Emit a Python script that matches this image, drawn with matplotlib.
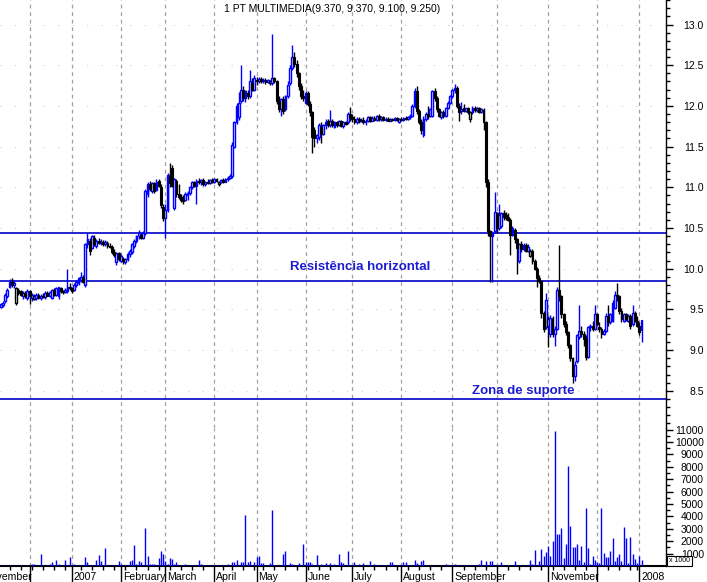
"""
PT Multimedia daily candles with volume, Nov 2006 - Jan 2008.
"""

import matplotlib
matplotlib.use("Agg")
import matplotlib.pyplot as plt
import matplotlib.transforms as mtransforms
import numpy as np
import pandas as pd

plt.rcParams["font.family"] = ["Liberation Sans", "DejaVu Sans"]

BLUE = "#0000FF"
BLACK = "#000000"
TEXT_BLUE = "#1c1cd0"

# --------------------------------------------------------------------------- #
#  Daily OHLC (one row of values per month)
# --------------------------------------------------------------------------- #
opens = [
    9.53, 9.55, 9.60, 9.66, 9.78, 9.84, 9.80, 9.58, 9.74, 9.72, 9.66, 9.70, 9.64,
    9.72, 9.64, 9.63, 9.64, 9.68, 9.64, 9.67, 9.65, 9.70, 9.67, 9.64, 9.74, 9.68, 9.66, 9.76, 9.72, 9.71, 9.72, 9.78,
    9.76, 9.74, 9.80, 9.82, 9.86, 9.88, 9.80, 10.30, 10.34, 10.26, 10.38, 10.28, 10.34, 10.32, 10.33, 10.30, 10.32, 10.28, 10.27, 10.20, 10.08, 10.19,
    10.10, 10.12, 10.08, 10.12, 10.18, 10.20, 10.28, 10.34, 10.40, 10.42, 10.38, 10.44, 10.92, 11.04, 10.96, 11.05, 10.97, 11.08, 11.00, 10.76,
    10.62, 10.72, 11.15, 11.24, 10.75, 11.08, 10.92, 10.88, 10.85, 10.84, 10.90, 10.93, 11.00, 11.06, 11.02, 11.08, 11.06, 11.09, 11.04, 11.07, 11.05, 11.09,
    11.07, 11.10, 11.04, 11.06, 11.09, 11.07, 11.10, 11.12, 11.14, 11.50, 11.80, 11.86, 12.06, 12.20, 12.10, 12.16, 12.12, 12.28, 12.20,
    12.32, 12.30, 12.33, 12.30, 12.32, 12.29, 12.28, 12.28, 12.34, 12.30, 12.06, 11.96, 12.08, 11.96, 12.12, 12.28, 12.46, 12.60, 12.52, 12.40, 12.24, 12.12,
    12.04, 12.16, 12.02, 11.92, 11.70, 11.60, 11.62, 11.74, 11.66, 11.76, 11.82, 11.76, 11.82, 11.74, 11.80, 11.76, 11.81, 11.75, 11.80, 11.80, 11.90,
    11.86, 11.84, 11.80, 11.84, 11.81, 11.83, 11.80, 11.82, 11.86, 11.82, 11.85, 11.83, 11.87, 11.84, 11.86, 11.83, 11.84, 11.82, 11.84, 11.83, 11.85, 11.80,
    11.84, 11.83, 11.85, 11.84, 11.86, 11.88, 12.00, 12.18, 11.94, 11.80, 11.64, 11.84, 11.90, 11.88, 11.88, 12.18, 12.10, 11.96, 11.86, 11.92, 11.87, 11.97, 12.04,
    12.12, 12.20, 12.22, 12.00, 11.94, 11.98, 11.94, 11.97, 11.84, 11.92, 11.98, 11.95, 11.97, 11.93, 11.95, 11.80, 11.06, 10.46, 10.40, 10.46,
    10.68, 10.50, 10.52, 10.68, 10.66, 10.64, 10.60, 10.42, 10.48, 10.36, 10.10, 10.30, 10.24, 10.29, 10.22, 10.16, 10.22, 10.10, 10.00, 9.88, 9.85, 9.46, 9.28,
    9.30, 9.20, 9.40, 9.20, 9.26, 9.74, 9.66, 9.44, 9.32, 9.22, 9.06, 8.90, 8.68, 8.86, 9.16, 9.24, 9.20, 9.14, 8.92, 9.28, 9.30, 9.26,
    9.44, 9.28, 9.26, 9.20, 9.24, 9.42, 9.34, 9.36, 9.52, 9.68, 9.66, 9.48, 9.36, 9.44, 9.36, 9.42, 9.32, 9.46, 9.36,
    9.30, 9.37,
]
highs = [
    9.58, 9.60, 9.70, 9.76, 9.87, 9.88, 9.86, 9.78, 9.76, 9.74, 9.72, 9.72, 9.75,
    9.74, 9.70, 9.69, 9.70, 9.70, 9.69, 9.70, 9.72, 9.72, 9.73, 9.75, 9.76, 9.77, 9.78, 9.78, 9.74, 9.76, 10.00, 9.82,
    9.78, 9.82, 9.86, 9.90, 9.96, 9.92, 10.32, 10.44, 10.38, 10.42, 10.42, 10.36, 10.38, 10.36, 10.35, 10.35, 10.34, 10.31, 10.29, 10.24, 10.20, 10.21,
    10.18, 10.14, 10.13, 10.20, 10.24, 10.32, 10.36, 10.42, 10.48, 10.44, 10.46, 10.98, 11.06, 11.08, 11.07, 11.06, 11.10, 11.10, 11.04, 10.80,
    10.80, 11.17, 11.30, 11.28, 11.12, 11.10, 11.04, 10.92, 10.90, 10.94, 10.95, 11.01, 11.08, 11.08, 11.10, 11.12, 11.10, 11.11, 11.08, 11.10, 11.10, 11.11,
    11.12, 11.12, 11.08, 11.10, 11.11, 11.12, 11.14, 11.16, 11.56, 11.82, 12.04, 12.17, 12.50, 12.24, 12.20, 12.20, 12.44, 12.34, 12.38,
    12.36, 12.35, 12.35, 12.34, 12.34, 12.33, 12.32, 12.88, 12.36, 12.32, 12.12, 12.10, 12.12, 12.14, 12.30, 12.50, 12.75, 12.66, 12.56, 12.42, 12.28, 12.20,
    12.18, 12.18, 12.06, 11.94, 11.74, 11.66, 11.79, 11.80, 11.78, 11.84, 11.84, 11.95, 11.84, 11.82, 11.82, 11.83, 11.83, 11.82, 11.82, 11.92, 11.99,
    11.90, 11.87, 11.86, 11.86, 11.85, 11.86, 11.84, 11.88, 11.88, 11.87, 11.88, 11.89, 11.90, 11.88, 11.88, 11.86, 11.86, 11.85, 11.85, 11.86, 11.86, 11.85,
    11.86, 11.86, 11.87, 11.88, 11.90, 12.02, 12.22, 12.25, 11.96, 11.84, 11.87, 11.92, 12.00, 11.98, 12.20, 12.22, 12.12, 11.98, 11.94, 11.95, 11.99, 12.06, 12.14,
    12.21, 12.27, 12.24, 12.04, 12.05, 12.02, 11.98, 11.99, 11.94, 12.00, 12.00, 11.99, 11.99, 11.98, 11.97, 11.82, 11.10, 10.48, 10.46, 10.94,
    10.70, 10.80, 10.70, 10.72, 10.70, 10.68, 10.62, 10.52, 10.50, 10.38, 10.32, 10.34, 10.31, 10.31, 10.30, 10.24, 10.24, 10.12, 10.02, 9.92, 9.86, 9.48, 9.70,
    9.42, 9.43, 9.42, 9.30, 9.77, 10.29, 9.68, 9.46, 9.36, 9.24, 9.08, 8.92, 8.86, 9.20, 9.56, 9.30, 9.24, 9.18, 9.30, 9.32, 9.36, 9.55,
    9.46, 9.34, 9.28, 9.26, 9.46, 9.55, 9.46, 9.62, 9.72, 9.82, 9.68, 9.52, 9.46, 9.46, 9.44, 9.44, 9.55, 9.48, 9.42,
    9.34, 9.37,
]
lows = [
    9.52, 9.53, 9.58, 9.64, 9.76, 9.78, 9.76, 9.55, 9.68, 9.66, 9.63, 9.64, 9.62,
    9.57, 9.60, 9.61, 9.62, 9.63, 9.62, 9.64, 9.63, 9.66, 9.65, 9.63, 9.66, 9.67, 9.63, 9.70, 9.69, 9.70, 9.70, 9.74,
    9.70, 9.72, 9.78, 9.80, 9.84, 9.82, 9.78, 10.25, 10.17, 10.24, 10.28, 10.26, 10.30, 10.29, 10.28, 10.28, 10.26, 10.25, 10.18, 10.14, 10.05, 10.10,
    10.08, 10.06, 10.06, 10.10, 10.14, 10.18, 10.26, 10.32, 10.36, 10.36, 10.37, 10.42, 10.88, 10.95, 10.93, 10.93, 10.95, 11.00, 10.75, 10.58,
    10.38, 10.70, 11.00, 11.00, 10.72, 10.88, 10.86, 10.82, 10.80, 10.83, 10.84, 10.90, 10.98, 11.00, 10.80, 11.04, 11.03, 11.02, 11.02, 11.04, 11.04, 11.05,
    11.05, 11.06, 11.02, 11.05, 11.05, 11.06, 11.08, 11.10, 11.12, 11.48, 11.78, 11.83, 12.04, 12.06, 12.05, 12.08, 12.10, 12.18, 12.18,
    12.26, 12.28, 12.28, 12.28, 12.27, 12.28, 12.26, 12.26, 12.28, 12.02, 11.92, 11.88, 11.90, 11.94, 12.10, 12.26, 12.44, 12.48, 12.36, 12.20, 12.08, 12.06,
    12.02, 12.00, 11.88, 11.42, 11.50, 11.55, 11.58, 11.55, 11.64, 11.72, 11.74, 11.74, 11.74, 11.73, 11.74, 11.75, 11.74, 11.73, 11.76, 11.78, 11.82,
    11.80, 11.78, 11.78, 11.79, 11.80, 11.78, 11.77, 11.80, 11.80, 11.81, 11.81, 11.82, 11.82, 11.82, 11.81, 11.81, 11.81, 11.81, 11.81, 11.82, 11.81, 11.79,
    11.82, 11.82, 11.83, 11.83, 11.84, 11.86, 11.98, 11.90, 11.78, 11.66, 11.62, 11.82, 11.84, 11.86, 11.86, 12.06, 11.92, 11.86, 11.84, 11.85, 11.86, 11.96, 12.02,
    12.10, 12.16, 11.98, 11.82, 11.90, 11.92, 11.92, 11.90, 11.80, 11.90, 11.92, 11.93, 11.91, 11.91, 11.70, 11.00, 10.40, 9.84, 9.84, 10.44,
    10.44, 10.48, 10.50, 10.60, 10.60, 10.58, 10.17, 10.40, 10.32, 9.93, 10.07, 10.20, 10.22, 10.20, 10.20, 10.14, 10.06, 9.98, 9.78, 9.82, 9.40, 9.22, 9.26,
    9.04, 9.16, 9.16, 9.05, 9.25, 9.60, 9.40, 9.28, 9.18, 9.02, 8.86, 8.60, 8.62, 8.84, 9.14, 9.16, 9.05, 8.88, 8.90, 9.24, 9.24, 9.25,
    9.30, 9.22, 9.15, 9.18, 9.22, 9.30, 9.32, 9.34, 9.50, 9.60, 9.44, 9.34, 9.34, 9.36, 9.34, 9.26, 9.30, 9.34, 9.28,
    9.18, 9.10,
]
closes = [
    9.57, 9.58, 9.68, 9.74, 9.84, 9.80, 9.82, 9.76, 9.70, 9.68, 9.70, 9.66, 9.73,
    9.66, 9.68, 9.67, 9.68, 9.64, 9.67, 9.65, 9.70, 9.67, 9.71, 9.74, 9.68, 9.76, 9.77, 9.72, 9.71, 9.74, 9.78, 9.76,
    9.72, 9.80, 9.84, 9.88, 9.90, 9.84, 10.30, 10.36, 10.22, 10.40, 10.30, 10.34, 10.32, 10.33, 10.30, 10.33, 10.28, 10.27, 10.20, 10.17, 10.19, 10.12,
    10.16, 10.09, 10.12, 10.18, 10.22, 10.30, 10.34, 10.40, 10.44, 10.38, 10.44, 10.95, 11.04, 10.98, 11.05, 10.96, 11.06, 11.02, 10.78, 10.62,
    10.72, 11.15, 11.05, 11.02, 11.10, 10.92, 10.88, 10.85, 10.83, 10.92, 10.93, 11.00, 11.06, 11.02, 11.08, 11.06, 11.09, 11.04, 11.07, 11.05, 11.09, 11.07,
    11.10, 11.08, 11.06, 11.09, 11.07, 11.10, 11.12, 11.14, 11.52, 11.80, 12.00, 12.04, 12.20, 12.10, 12.18, 12.12, 12.30, 12.20, 12.34,
    12.30, 12.33, 12.30, 12.32, 12.29, 12.32, 12.30, 12.34, 12.30, 12.06, 11.96, 12.08, 11.94, 12.12, 12.26, 12.46, 12.60, 12.52, 12.40, 12.24, 12.12, 12.10,
    12.16, 12.02, 11.92, 11.62, 11.60, 11.64, 11.76, 11.66, 11.76, 11.80, 11.76, 11.82, 11.76, 11.80, 11.76, 11.81, 11.75, 11.80, 11.78, 11.90, 11.86,
    11.84, 11.80, 11.84, 11.81, 11.83, 11.80, 11.82, 11.86, 11.82, 11.85, 11.83, 11.87, 11.84, 11.86, 11.83, 11.84, 11.82, 11.84, 11.83, 11.85, 11.83, 11.84,
    11.83, 11.85, 11.84, 11.86, 11.88, 12.00, 12.18, 11.94, 11.80, 11.70, 11.84, 11.90, 11.88, 11.96, 12.18, 12.10, 11.96, 11.88, 11.92, 11.87, 11.97, 12.04, 12.12,
    12.20, 12.22, 12.00, 11.92, 11.96, 11.94, 11.97, 11.93, 11.92, 11.98, 11.95, 11.97, 11.93, 11.96, 11.80, 11.06, 10.46, 10.40, 10.44, 10.70,
    10.50, 10.66, 10.68, 10.64, 10.62, 10.60, 10.42, 10.50, 10.36, 10.26, 10.30, 10.24, 10.29, 10.22, 10.27, 10.22, 10.10, 10.00, 9.88, 9.85, 9.46, 9.26, 9.62,
    9.38, 9.40, 9.20, 9.26, 9.74, 9.66, 9.44, 9.32, 9.22, 9.06, 8.90, 8.68, 8.82, 9.18, 9.24, 9.20, 9.14, 8.92, 9.28, 9.30, 9.26, 9.44,
    9.32, 9.26, 9.20, 9.24, 9.42, 9.34, 9.44, 9.58, 9.68, 9.66, 9.48, 9.38, 9.44, 9.38, 9.42, 9.30, 9.46, 9.36, 9.30,
    9.22, 9.25,
]
# volume in thousands of shares
volumes = [
    0.05, 0.0, 0.05, 0.1, 0.0, 0.1, 0.0, 0.05, 0.0, 0.05, 0.0, 0.05, 0.0,
    0.05, 0.2, 0.15, 0.0, 0.05, 1.0, 0.05, 0.0, 0.1, 0.15, 0.3, 0.05, 0.5, 0.15, 0.05, 0.0, 0.5, 0.1, 0.7,
    0.05, 0.15, 0.1, 0.05, 0.1, 0.05, 0.7, 0.3, 0.1, 0.05, 0.1, 0.5, 0.9, 0.4, 0.05, 1.45, 0.05, 0.1, 0.05, 0.1, 0.05, 0.4,
    0.15, 0.05, 0.1, 0.05, 0.4, 0.5, 1.7, 0.2, 0.4, 0.35, 0.05, 3.06, 0.8, 0.15, 0.15, 0.2, 0.05, 0.65, 1.2, 1.0,
    0.4, 0.15, 0.65, 0.55, 0.15, 0.3, 0.1, 0.1, 0.05, 0.15, 0.1, 0.05, 0.05, 0.1, 0.05, 0.5, 0.15, 0.1, 0.05, 0.05, 0.05, 0.05,
    0.05, 0.05, 0.08, 0.05, 0.1, 0.05, 0.15, 0.05, 0.35, 0.3, 0.5, 0.1, 0.3, 0.3, 4.1, 0.3, 0.4, 0.1, 0.3,
    0.7, 0.8, 0.25, 0.25, 0.1, 0.1, 0.25, 4.5, 0.1, 0.1, 0.05, 0.1, 1.0, 1.2, 0.05, 0.25, 0.15, 0.1, 0.05, 0.25, 0.1, 1.8,
    0.3, 0.3, 0.3, 0.15, 0.05, 0.9, 0.05, 0.15, 0.1, 0.25, 0.05, 0.25, 0.05, 0.15, 0.05, 1.0, 0.35, 0.25, 0.05, 1.2, 0.1,
    0.05, 0.35, 0.05, 0.15, 0.1, 0.25, 0.1, 0.05, 0.4, 0.05, 0.15, 0.1, 0.1, 0.1, 0.05, 0.05, 0.1, 0.35, 0.35, 0.05, 0.1, 0.05,
    0.05, 0.3, 0.35, 0.05, 0.1, 0.05, 0.5, 0.25, 0.05, 0.4, 0.5, 0.05, 0.1, 0.0, 0.05, 0.0, 0.05, 0.0, 0.05, 0.0, 0.15, 0.05, 0.1,
    0.05, 0.15, 0.05, 0.1, 0.1, 0.05, 0.05, 0.08, 0.05, 0.08, 0.05, 0.1, 0.2, 0.5, 0.1, 0.4, 0.05, 0.4, 0.4, 0.1,
    0.1, 0.05, 0.3, 0.05, 0.05, 0.1, 0.1, 0.05, 0.4, 0.05, 0.05, 0.1, 0.1, 0.1, 0.05, 0.5, 0.2, 1.3, 0.05, 0.4, 1.4, 0.8, 1.1,
    1.6, 0.8, 2.0, 10.9, 2.6, 2.6, 3.06, 0.65, 1.8, 8.06, 3.2, 1.55, 1.55, 1.8, 0.5, 1.6, 0.3, 4.7, 1.45, 0.15, 0.8, 0.5,
    0.3, 0.25, 4.7, 1.05, 0.7, 0.7, 1.2, 2.26, 0.4, 0.7, 1.0, 0.4, 3.15, 2.26, 0.25, 2.34, 1.0, 0.55, 0.25,
    0.8, 0.5,
]

holidays = ["2006-12-25", "2006-12-26", "2007-01-01", "2007-04-06", "2007-04-09",
            "2007-05-01", "2007-12-25", "2007-12-26", "2008-01-01"]

# horizontal resistance / support levels
levels = [10.435, 9.85, 8.40]

price_ticks = [8.5, 9.0, 9.5, 10.0, 10.5, 11.0, 11.5, 12.0, 12.5, 13.0]
volume_ticks = [1, 2, 3, 4, 5, 6, 7, 8, 9, 10, 11]

# label per month boundary ("" = boundary without label)
month_labels = ["", "2007", "February", "March", "April", "May", "June", "July",
                "August", "September", "", "November", "", "2008"]

title = "1 PT MULTIMEDIA(9.370, 9.370, 9.100, 9.250)"

# --------------------------------------------------------------------------- #
dates = pd.bdate_range("2006-11-14", "2008-01-03")
dates = dates[~dates.isin(pd.to_datetime(holidays))]
n = len(closes)
assert len(dates) == n == len(opens) == len(highs) == len(lows) == len(volumes), \
    (len(dates), len(opens), len(highs), len(lows), len(closes), len(volumes))

x = np.arange(n)
o = np.array(opens)
h = np.array(highs)
l = np.array(lows)
c = np.array(closes)
v = np.array(volumes)

prev = np.r_[c[0], c[:-1]]
col = np.where(c >= prev, BLUE, BLACK)
hollow = c >= o

month_pos = [i for i in range(1, n) if dates[i].month != dates[i - 1].month]
week_pos = [i for i in range(1, n) if dates[i].weekday() < dates[i - 1].weekday()]

W, H = 707, 582
fig = plt.figure(figsize=(W / 100, H / 100), dpi=100)
ax_p = fig.add_axes([0, 1 - 428 / H, 666 / W, 428 / H])
ax_v = fig.add_axes([0, 16 / H, 666 / W, 138 / H])

xlim = (-0.3, 299.0)

# --- price panel ---
for m in month_pos:
    for ax in (ax_p, ax_v):
        ax.axvline(m, color="#a0a0a0", lw=0.9, ls=(0, (3, 3)), zorder=0)
for pt in price_ticks:
    ax_p.axhline(pt, color="#f2b8e2", lw=0.8, ls=(0, (1, 12)), zorder=0)

for lv in levels:
    ax_p.axhline(lv, color="#0000c8", lw=1.2, zorder=2)

ax_p.vlines(x, l, h, colors=col, lw=1.0, zorder=3)
bottoms = np.minimum(o, c)
heights = np.maximum(np.abs(c - o), 0.008)
ax_p.bar(x[hollow], heights[hollow], width=0.8, bottom=bottoms[hollow],
         facecolor="white", edgecolor=col[hollow], linewidth=1.0, zorder=4)
ax_p.bar(x[~hollow], heights[~hollow], width=0.85, bottom=bottoms[~hollow],
         facecolor=col[~hollow], edgecolor=col[~hollow], linewidth=0.8, zorder=4)

ax_p.text(161.5, 10.02, "Resistência horizontal", color=TEXT_BLUE, fontsize=9.5,
          fontweight="bold", ha="center", va="center", zorder=5)
ax_p.text(235, 8.50, "Zona de suporte", color=TEXT_BLUE, fontsize=9.5,
          fontweight="bold", ha="center", va="center", zorder=5)

ax_p.set_xlim(*xlim)
ax_p.set_ylim(8.043, 13.301)
ax_p.set_xticks([])
ax_p.yaxis.tick_right()
ax_p.set_yticks(price_ticks)
ax_p.set_yticklabels([f"{t:.1f}" for t in price_ticks])
ax_p.set_yticks(np.arange(8.1, 13.31, 0.1), minor=True)

# --- volume panel ---
ax_v.vlines(x, 0, v, colors=BLUE, lw=1.0, zorder=3)
ax_v.set_xlim(*xlim)
ax_v.set_ylim(0, 11.13)
ax_v.yaxis.tick_right()
ax_v.set_yticks(volume_ticks)
ax_v.set_yticklabels([str(t * 1000) for t in volume_ticks])
ax_v.set_yticks(np.arange(0.5, 11.1, 0.5), minor=True)

ax_v.set_xticks(month_pos)
ax_v.set_xticklabels([])
ax_v.set_xticks(week_pos, minor=True)
ax_v.tick_params(axis="x", which="major", length=11.5, width=1, direction="out")
ax_v.tick_params(axis="x", which="minor", length=3, width=1, direction="out")

for ax in (ax_p, ax_v):
    ax.tick_params(axis="y", which="major", length=5, width=1, pad=22.3,
                   labelsize=7.5, direction="out")
    ax.tick_params(axis="y", which="minor", length=3, width=1, direction="out")
    plt.setp(ax.get_yticklabels(), ha="right")
    ax.spines["top"].set_visible(False)
    ax.spines["left"].set_visible(False)
    ax.spines["right"].set_linewidth(1.0)
    ax.patch.set_alpha(0)
ax_p.spines["bottom"].set_visible(False)
ax_v.spines["bottom"].set_linewidth(1.5)

# month names, placed just right of each boundary
lab_tf = mtransforms.offset_copy(ax_v.get_xaxis_transform(), fig=fig,
                                 x=2, y=-11.5, units="dots")
ax_v.text(-9, 0, "November", transform=lab_tf, ha="left", va="center",
          fontsize=7.6, clip_on=False)
for m, lab in zip(month_pos, month_labels):
    if lab:
        ax_v.text(m, 0, lab, transform=lab_tf, ha="left", va="center",
                  fontsize=7.6, clip_on=False)

fig.text(332 / W, 1 - 9 / H, title, ha="center", va="center", fontsize=7.5)
fig.text(669 / W, 1 - 561 / H, "x 1000", ha="left", va="center", fontsize=5,
         zorder=10, bbox=dict(boxstyle="square,pad=0.25", facecolor="white",
                              edgecolor="black", linewidth=0.8))

fig.savefig("out.png", dpi=100)
plt.close(fig)
